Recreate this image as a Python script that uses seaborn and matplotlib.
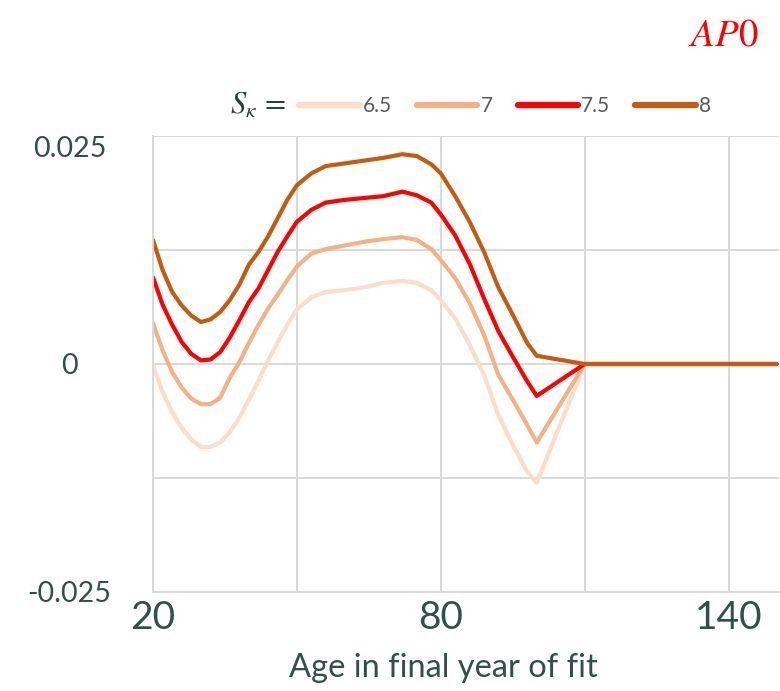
import numpy as np
import pandas as pd
import matplotlib
matplotlib.use("Agg")
import matplotlib.pyplot as plt
import seaborn as sns
from matplotlib.ticker import FixedLocator

ages = [20, 22, 24, 26, 28, 30, 32, 34, 36, 38, 40, 42, 44, 46, 48, 50, 53, 56, 60, 64, 68, 72, 75, 78,
        80, 83, 86, 89, 92, 95, 98, 100, 110, 120, 130, 140, 150]
s65 = [-0.0001, -0.0031, -0.0053, -0.0070, -0.0083, -0.0091, -0.0091, -0.0086, -0.0075, -0.0059, -0.0039,
       -0.0018, 0.0004, 0.0024, 0.0043, 0.0060, 0.0073, 0.0079, 0.0081, 0.0084, 0.0089, 0.0091, 0.0089,
       0.0081, 0.0070, 0.0050, 0.0021, -0.0012, -0.0056, -0.0089, -0.0118, -0.0130, 0.0, 0.0, 0.0, 0.0, 0.0]
s7 = [0.0045, 0.0015, -0.0009, -0.0026, -0.0038, -0.0044, -0.0044, -0.0037, -0.0015, 0.0002, 0.0023,
      0.0043, 0.0061, 0.0076, 0.0092, 0.0107, 0.0121, 0.0126, 0.0130, 0.0134, 0.0137, 0.0139, 0.0136,
      0.0126, 0.0114, 0.0094, 0.0067, 0.0032, -0.0012, -0.0039, -0.0067, -0.0086, 0.0, 0.0, 0.0, 0.0, 0.0]
s75 = [0.0095, 0.0065, 0.0043, 0.0024, 0.0011, 0.0004, 0.0005, 0.0013, 0.0029, 0.0048, 0.0068, 0.0083,
       0.0103, 0.0123, 0.0140, 0.0156, 0.0169, 0.0177, 0.0180, 0.0182, 0.0184, 0.0189, 0.0185, 0.0177,
       0.0164, 0.0141, 0.0110, 0.0072, 0.0036, 0.0008, -0.0019, -0.0035, 0.0, 0.0, 0.0, 0.0, 0.0]
s8 = [0.0136, 0.0103, 0.0079, 0.0064, 0.0053, 0.0046, 0.0049, 0.0057, 0.0070, 0.0087, 0.0109, 0.0123,
      0.0140, 0.0160, 0.0180, 0.0196, 0.0209, 0.0217, 0.0220, 0.0223, 0.0226, 0.0230, 0.0228, 0.0219,
      0.0209, 0.0184, 0.0156, 0.0123, 0.0084, 0.0054, 0.0023, 0.0009, 0.0, 0.0, 0.0, 0.0, 0.0]
series_labels = ["6.5", "7", "7.5", "8"]
colors = ["#FBDDC8", "#F4B183", "#FF0000", "#C55A11"]
y_ticks = [-0.025, 0, 0.025]
y_ticklabels = ["-0.025", "0", "0.025"]
x_ticks = [20, 80, 140]

frames = []
for lab, vals in zip(series_labels, [s65, s7, s75, s8]):
    frames.append(pd.DataFrame({"age": ages, "value": vals, "S": lab}))
df = pd.concat(frames, ignore_index=True)

sns.set_theme(style="white")
plt.rcParams["font.family"] = ["Lato", "DejaVu Sans"]
plt.rcParams["mathtext.fontset"] = "stix"

fig = plt.figure(figsize=(7.8, 6.91), dpi=100)
ax = fig.add_axes([153/780, 1-592/691, (779-153)/780, (592-136)/691])

sns.lineplot(data=df, x="age", y="value", hue="S", hue_order=series_labels,
             palette=colors, linewidth=3.0, ax=ax, legend=False, sort=False)
for ln in ax.get_lines():
    ln.set_solid_joinstyle("round")

ax.set_xlim(20, 150.5)
ax.set_ylim(-0.025, 0.025)
ax.xaxis.set_major_locator(FixedLocator(x_ticks))
ax.xaxis.set_minor_locator(FixedLocator([50, 110]))
ax.yaxis.set_major_locator(FixedLocator(y_ticks))
ax.yaxis.set_minor_locator(FixedLocator([-0.0125, 0.0125]))
ax.set_yticklabels(y_ticklabels)
ax.grid(True, which="both", color="#D9D9D9", linewidth=1.4)
ax.set_axisbelow(True)
for side in ["top", "right"]:
    ax.spines[side].set_visible(False)
for side in ["left", "bottom"]:
    ax.spines[side].set_color("#D9D9D9")
    ax.spines[side].set_linewidth(1.4)

txtcol = "#31504A"
ax.tick_params(axis="x", which="both", length=0, pad=6, labelsize=28, labelcolor=txtcol)
ax.tick_params(axis="y", which="both", length=0, pad=60, labelsize=20.5, labelcolor=txtcol)
for lbl in ax.get_yticklabels():
    lbl.set_horizontalalignment("center")
    if lbl.get_text() == "0.025":
        lbl.set_verticalalignment("top")

ax.set_xlabel("Age in final year of fit", fontsize=23.5, color=txtcol)
ax.xaxis.set_label_coords((443 - 153) / 626, -(668 - 592) / 456, transform=ax.transAxes)
ax.xaxis.label.set_verticalalignment("center")
ax.set_ylabel("")

handles = ax.get_lines()[:4]
leg = fig.legend(handles, series_labels, loc="center", bbox_to_anchor=(505/780, 1-106/691),
                 ncol=4, frameon=False, handlelength=2.9, handletextpad=0.15, columnspacing=1.2,
                 fontsize=15)
for t in leg.get_texts():
    t.set_color("#595959")
for h in leg.legend_handles:
    h.set_linewidth(4.5)
    h.set_solid_capstyle("round")

fig.text(258/780, 1-105/691, r"$S_\kappa\,=$", fontsize=22, color="#2B3F3B", ha="center", va="center")
fig.text(724/780, 1-35/691, r"$AP0$", fontsize=28, color="#FF0000", ha="center", va="center")

fig.savefig("out.png", dpi=100)
